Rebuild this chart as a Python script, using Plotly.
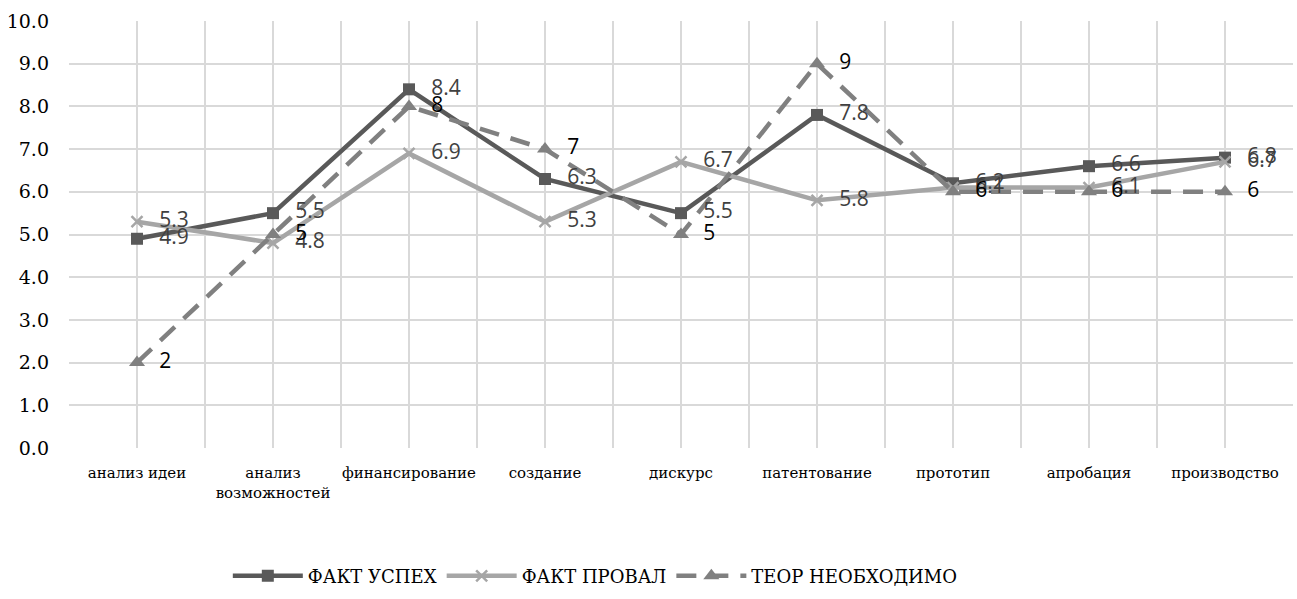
import plotly.graph_objects as go

# Stages of the process
stages = ["анализ идеи", "анализ<br>возможностей", "финансирование", "создание",
          "дискурс", "патентование", "прототип", "апробация", "производство"]

fact_success = [4.9, 5.5, 8.4, 6.3, 5.5, 7.8, 6.2, 6.6, 6.8]
fact_fail = [5.3, 4.8, 6.9, 5.3, 6.7, 5.8, 6.1, 6.1, 6.7]
theory_needed = [2, 5, 8, 7, 5, 9, 6, 6, 6]

y_ticks = [0, 1, 2, 3, 4, 5, 6, 7, 8, 9, 10]

SERIF = "DejaVu Serif"

x = list(range(len(stages)))

fig = go.Figure()

series = [
    ("ФАКТ УСПЕХ", fact_success, "#595959", "square", 12, "solid", "#404040", "{:.1f}"),
    ("ФАКТ ПРОВАЛ", fact_fail, "#a6a6a6", "x-thin", 11, "solid", "#404040", "{:.1f}"),
    ("ТЕОР НЕОБХОДИМО", theory_needed, "#808080", "triangle-up", 14, "dash", "#000000", "{}"),
]

for name, vals, color, sym, size, dash, _, _ in series:
    fig.add_trace(go.Scatter(
        x=x, y=vals, name=name, mode="lines+markers",
        line=dict(color=color, width=4.5, dash=dash if dash == "solid" else "20px,12px"),
        marker=dict(symbol=sym, size=size, color=color,
                    line=dict(color=color, width=2.5 if sym == "x-thin" else 0)),
    ))

# Value labels drawn above all lines; transparent markers set the label offset
for name, vals, color, sym, size, dash, tcol, fmt in series:
    fig.add_trace(go.Scatter(
        x=x, y=vals, mode="markers+text", showlegend=False, hoverinfo="skip",
        marker=dict(size=34, opacity=0),
        text=[fmt.format(v) for v in vals], textposition="middle right",
        textfont=dict(family="Open Sans", size=21, color=tcol),
    ))

fig.update_layout(
    width=1297, height=599,
    margin=dict(l=69, r=4, t=21, b=148),
    paper_bgcolor="white", plot_bgcolor="white",
    showlegend=True,
    legend=dict(orientation="h", x=0.43, xanchor="center", y=-0.3, yanchor="middle",
                font=dict(family=SERIF, size=18, color="#000000"),
                itemwidth=70),
    xaxis=dict(
        range=[-0.5, len(stages) - 0.5],
        tickvals=x, ticktext=stages,
        tickfont=dict(family=SERIF, size=15, color="#000000"),
        ticklabelstandoff=14,
        showgrid=True, gridcolor="#d9d9d9", gridwidth=1.5,
        minor=dict(tickvals=[i - 0.5 for i in range(len(stages) + 1)],
                   showgrid=True, gridcolor="#d9d9d9", gridwidth=1.5, ticklen=0),
        ticks="", zeroline=False, showline=False,
    ),
    yaxis=dict(
        range=[0, 10], tickvals=y_ticks, ticktext=[f"{v:.1f}" for v in y_ticks],
        tickfont=dict(family=SERIF, size=19, color="#000000"),
        ticklabelstandoff=19,
        showgrid=True, gridcolor="#d9d9d9", gridwidth=1.5,
        zeroline=False, showline=False, ticks="",
    ),
)

fig.write_html("out.html")
